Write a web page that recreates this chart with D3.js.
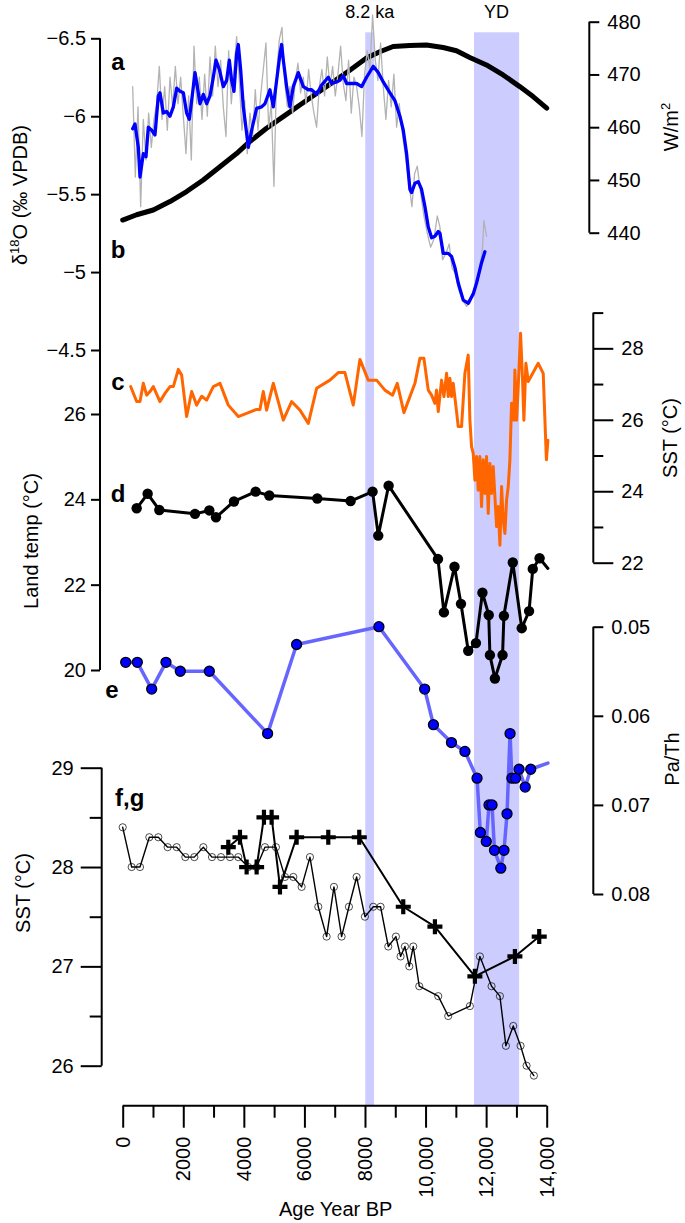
<!DOCTYPE html>
<html><head><meta charset="utf-8">
<script src="https://cdn.jsdelivr.net/npm/d3@7"></script>
<style>body{margin:0;background:#fff} svg{display:block} text{font-family:"Liberation Sans",Arial,Helvetica,sans-serif}</style>
</head><body>
<script>
// ---------- DATA ----------
const ageTicks = [0,2000,4000,6000,8000,10000,12000,14000];
const ageTickLabels = ["0","2000","4000","6000","8000","10,000","12,000","14,000"];
const ageMinorTicks = [1000,3000,5000,7000,9000,11000,13000];

const eventLabels = ["8.2 ka","YD"];
const eventStart = [8010, 11600];
const eventEnd = [8300, 13090];

// a: speleothem d18O raw (grey) and smoothed (blue)
const d18oRawAge = [329,417,505,593,681,769,857,945,1033,1121,1209,1298,1386,1474,1562,1650,1738,1826,1914,2002,2090,2178,2266,2354,2442,2530,2618,2706,2794,2882,2970,3058,3146,3234,3322,3410,3498,3586,3674,3762,3850,3938,4026,4114,4202,4290,4378,4466,4554,4642,4730,4818,4906,4994,5083,5171,5259,5347,5435,5523,5611,5699,5787,5875,5963,6051,6139,6227,6315,6403,6491,6579,6667,6755,6843,6931,7019,7107,7195,7283,7371,7459,7547,7635,7723,7811,7899,7987,8075,8163,8251,8339,8427,8515,8603,8691,8779,8867,8955,9044,9132,9220,9352,9462,9550,9638,9726,9836,9946,10056,10166,10276,10386,10474,10562,10672,10782,10870,10980,11090,11222,11354,11464,11574,11684,11794,11882,11926,12014];
const d18oRaw = [-6.19,-5.61,-6.06,-5.42,-5.98,-5.72,-6.02,-5.80,-5.98,-6.08,-6.32,-5.98,-6.19,-5.91,-6.25,-6.06,-6.32,-6.08,-6.25,-6.00,-5.76,-6.13,-5.72,-6.45,-6.08,-6.25,-5.98,-6.27,-6.00,-6.38,-6.13,-6.45,-6.19,-6.36,-6.06,-5.87,-6.42,-6.08,-6.30,-6.51,-6.23,-5.91,-6.10,-5.76,-6.02,-5.87,-6.17,-5.91,-6.13,-6.30,-6.47,-5.93,-6.08,-5.55,-6.27,-6.49,-6.57,-6.23,-6.06,-6.19,-6.02,-6.23,-6.34,-6.15,-6.25,-6.08,-6.30,-6.13,-6.02,-5.93,-6.19,-6.30,-6.13,-6.38,-6.19,-6.32,-6.13,-6.27,-6.45,-6.21,-6.10,-6.36,-6.02,-6.25,-6.19,-6.06,-5.87,-6.27,-6.42,-6.30,-6.65,-6.36,-6.23,-6.47,-6.19,-5.98,-6.23,-6.06,-6.27,-5.93,-6.08,-5.91,-5.72,-5.55,-5.42,-5.63,-5.68,-5.51,-5.36,-5.25,-5.16,-5.21,-5.36,-5.29,-5.08,-5.12,-5.18,-5.03,-4.99,-4.89,-4.82,-4.78,-4.80,-4.86,-4.93,-5.03,-5.16,-5.33,-5.23];
const d18oSmoothAge = [329,406,516,571,681,769,846,956,1066,1176,1231,1341,1451,1561,1672,1782,1892,2002,2112,2200,2277,2387,2464,2552,2662,2772,2882,2992,3080,3190,3322,3432,3520,3597,3674,3762,3817,3894,3982,4092,4147,4257,4422,4587,4697,4862,4973,5083,5193,5248,5303,5413,5523,5633,5798,5963,6128,6238,6403,6568,6788,6898,7063,7173,7283,7393,7558,7723,7888,8053,8273,8438,8603,8824,8989,9154,9264,9374,9484,9539,9649,9759,9869,9979,10089,10199,10309,10419,10474,10584,10749,10859,10969,11079,11244,11409,11574,11684,11849,11959];
const d18oSmooth = [-5.92,-5.95,-5.80,-5.61,-5.76,-5.74,-5.93,-5.91,-5.88,-6.13,-6.15,-6.02,-6.03,-6.00,-6.06,-6.18,-6.16,-6.15,-6.02,-5.98,-6.10,-6.28,-6.19,-6.08,-6.14,-6.08,-6.13,-6.25,-6.36,-6.30,-6.19,-6.23,-6.36,-6.23,-6.16,-6.40,-6.46,-6.30,-6.06,-5.89,-5.80,-5.91,-6.05,-6.06,-6.08,-6.17,-6.06,-6.23,-6.40,-6.46,-6.36,-6.19,-6.06,-6.19,-6.28,-6.19,-6.17,-6.17,-6.14,-6.20,-6.25,-6.21,-6.22,-6.23,-6.26,-6.21,-6.21,-6.21,-6.19,-6.25,-6.32,-6.28,-6.22,-6.15,-6.10,-6.00,-5.91,-5.76,-5.53,-5.51,-5.57,-5.58,-5.53,-5.42,-5.29,-5.22,-5.23,-5.26,-5.25,-5.12,-5.12,-5.10,-5.03,-4.93,-4.82,-4.80,-4.86,-4.93,-5.06,-5.13];

// b: insolation (W/m2)
const insolAge = [0,460,1010,1560,2110,2660,3210,3760,4200,4750,5300,5850,6400,6950,7500,8050,8490,8930,9480,10030,10580,11020,11460,12010,12560,13110,13550,14000];
const insol = [442.4,443.4,444.3,445.9,447.8,450.0,452.5,455.0,457.3,459.8,462.0,464.2,466.4,468.6,470.8,473.1,474.3,475.3,475.5,475.6,475.1,474.5,473.2,471.8,469.9,467.7,465.8,463.6];

// c: SST (orange)
const sstCAge = [263,461,571,681,791,901,1011,1231,1396,1562,1672,1837,1947,2112,2277,2442,2607,2772,2992,3212,3487,3817,4422,4532,4642,4752,4973,5303,5578,5853,6128,6403,6843,7118,7338,7613,7833,8108,8383,8658,8911,9066,9286,9649,9814,9946,10089,10199,10309,10364,10419,10529,10606,10694,10749,10804,10859,10914,11024,11079,11189,11299,11409,11464,11519,11574,11629,11684,11739,11794,11849,11904,11959,12014,12069,12125,12180,12235,12290,12345,12400,12455,12510,12565,12620,12675,12730,12785,12840,12917,12950,13005,13060,13137,13203,13247,13313,13390,13720,13885,13990,14040];
const sstC = [26.93,26.51,26.51,27.02,26.69,26.79,26.93,26.51,26.74,26.93,26.93,27.41,27.25,26.09,26.79,26.41,26.66,26.55,26.93,27.02,26.41,26.09,26.29,26.29,26.79,26.27,27.02,25.99,26.51,26.27,25.90,26.88,27.11,27.32,27.32,26.41,27.69,27.11,27.11,26.83,26.69,27.02,26.20,27.02,27.72,27.72,26.83,26.69,26.46,26.83,26.23,27.11,26.65,27.30,26.65,27.16,26.65,27.02,26.23,25.81,25.81,27.30,27.81,25.99,25.25,25.06,24.31,24.97,24.03,24.97,23.57,24.88,23.94,24.97,23.38,24.78,23.94,24.69,23.85,23.01,23.57,22.49,24.13,23.19,22.82,23.75,24.13,24.88,26.46,25.99,27.39,25.99,26.93,28.42,27.11,25.99,27.58,27.07,27.58,27.30,24.88,25.43];

// d: land temperature
const landAge = [461,824,1209,2387,2860,3080,3674,4389,4840,6425,7525,8251,8438,8780,10410,10606,10955,11170,11409,11664,11878,12086,12125,12290,12543,12587,12880,13176,13418,13540,13765,14040];
const landTemp = [23.79,24.13,23.75,23.66,23.74,23.58,23.95,24.18,24.09,24.02,23.96,24.18,23.15,24.32,22.60,21.35,22.42,21.55,20.45,20.63,21.81,21.29,20.35,19.80,20.35,21.27,22.52,20.98,21.38,22.37,22.62,22.38];

// e: Pa/Th
const paThAge = [99,483,957,1429,1902,2860,4785,5742,8460,9970,10260,10855,11300,11700,11810,12005,12095,12195,12275,12485,12590,12690,12790,12850,12972,13088,13290,13472,14040];
const paTh = [0.0540,0.0540,0.0570,0.0540,0.0550,0.0550,0.0620,0.0520,0.0500,0.0570,0.0610,0.0630,0.0640,0.0670,0.0731,0.0741,0.0700,0.0700,0.0751,0.0771,0.0751,0.0710,0.0620,0.0670,0.0670,0.0660,0.0680,0.0660,0.0653];

// f: SST (open circles)
const sstFAge = [0,296,571,879,1176,1484,1782,2068,2365,2662,2948,3245,3542,3817,4147,4422,4697,5060,5358,5633,5908,6183,6458,6733,6975,7228,7470,7723,7998,8273,8515,8769,9021,9175,9319,9462,9594,9792,10419,10749,11464,11794,12180,12455,12653,12895,13137,13335,13577];
const sstF = [28.4,28.0,28.0,28.3,28.3,28.2,28.2,28.1,28.1,28.2,28.1,28.1,28.1,28.1,28.0,28.0,28.2,28.2,27.9,27.9,27.8,28.1,27.6,27.3,27.8,27.3,27.6,27.9,27.5,27.6,27.6,27.2,27.3,27.1,27.2,27.0,27.2,26.8,26.7,26.5,26.6,27.1,26.8,26.7,26.2,26.4,26.2,26.0,25.9];

// g: SST (crosses)
const sstGAge = [3487,3872,4092,4422,4664,4917,5193,5743,6788,7811,9264,10309,11629,12950,13753];
const sstG = [28.2,28.3,28.0,28.0,28.5,28.5,27.8,28.3,28.3,28.3,27.6,27.4,26.9,27.1,27.3];

// ---------- DRAWING ----------
const W = 685, H = 1223;
const FONT = 20;
const svg = d3.select("body").append("svg").attr("width", W).attr("height", H);

const x = d3.scaleLinear().domain([0, 14000]).range([122.7, 546.7]);
const yO = d3.scaleLinear().domain([-6.5, -4.5]).range([38.3, 350]);
const yW = d3.scaleLinear().domain([440, 480]).range([232.7, 21.7]);
const ySC = d3.scaleLinear().domain([22, 29]).range([562.7, 312.6]);
const yL = d3.scaleLinear().domain([20, 26]).range([670, 414]);
const yP = d3.scaleLinear().domain([0.05, 0.08]).range([626.7, 894]);
const yF = d3.scaleLinear().domain([26, 29]).range([1065.7, 767.7]);

const xAxisY = 1105.7, bandTop = 32.3;

// bands
svg.selectAll("rect.band").data(eventLabels).join("rect")
  .attr("x", (d, i) => x(eventStart[i]))
  .attr("width", (d, i) => x(eventEnd[i]) - x(eventStart[i]))
  .attr("y", bandTop).attr("height", xAxisY - bandTop)
  .attr("fill", "#ccccff");
svg.selectAll("text.band").data(eventLabels).join("text")
  .attr("x", (d, i) => x((eventStart[i] + eventEnd[i]) / 2))
  .attr("y", 18).attr("text-anchor", "middle").attr("font-size", 18).text(d => d);

function pts(ages, vals, ys) { return ages.map((a, i) => [x(a), ys(vals[i])]); }
const line = d3.line();

function drawLine(ages, vals, ys, color, width) {
  svg.append("path").attr("d", line(pts(ages, vals, ys)))
    .attr("fill", "none").attr("stroke", color).attr("stroke-width", width)
    .attr("stroke-linejoin", "round").attr("stroke-linecap", "round");
}

// b insolation, a raw + smooth
drawLine(insolAge, insol, yW, "#000", 5);
drawLine(d18oRawAge, d18oRaw, yO, "#b3b3b3", 1.3);
drawLine(d18oSmoothAge, d18oSmooth, yO, "#0000ff", 3.3);

// c
drawLine(sstCAge, sstC, ySC, "#ff6600", 3);

// e line
drawLine(paThAge, paTh, yP, "#6666ff", 3.5);
// d line
drawLine(landAge, landTemp, yL, "#000", 3);
// d dots
svg.append("g").selectAll("circle").data(landAge.map((a, i) => i).filter(i => landAge[i] <= 14000)).join("circle")
  .attr("cx", i => x(landAge[i])).attr("cy", i => yL(landTemp[i])).attr("r", 5.2).attr("fill", "#000");
// e dots
svg.append("g").selectAll("circle").data(paThAge.map((a, i) => i).filter(i => paThAge[i] <= 14000)).join("circle")
  .attr("cx", i => x(paThAge[i])).attr("cy", i => yP(paTh[i])).attr("r", 5)
  .attr("fill", "#0000ff").attr("stroke", "#000").attr("stroke-width", 1.3);

// f
drawLine(sstFAge, sstF, yF, "#000", 1.4);
svg.append("g").selectAll("circle").data(sstFAge.map((a, i) => i)).join("circle")
  .attr("cx", i => x(sstFAge[i])).attr("cy", i => yF(sstF[i])).attr("r", 3.6)
  .attr("fill", "none").attr("stroke", "#000").attr("stroke-width", 0.7);
// g
drawLine(sstGAge, sstG, yF, "#000", 2);
svg.append("g").selectAll("path").data(sstGAge.map((a, i) => i)).join("path")
  .attr("transform", i => `translate(${x(sstGAge[i])},${yF(sstG[i])})`)
  .attr("d", "M-7.5,0H7.5M0,-7.5V7.5").attr("stroke", "#000").attr("stroke-width", 4.2).attr("fill", "none");

// ---------- AXES ----------
function styleAxis(g) {
  g.select(".domain").remove();
  g.selectAll(".tick line").attr("stroke", "#000").attr("stroke-width", 2);
  g.selectAll(".tick text").attr("font-size", FONT).attr("fill", "#000")
    .attr("font-family", "'Liberation Sans',Arial,Helvetica,sans-serif");
}
const fmt = d3.format("");

// upper left combined axis
const LX = 100;
svg.append("line").attr("x1", LX).attr("x2", LX).attr("y1", yO(-6.5)).attr("y2", yL(20)).attr("stroke", "#000").attr("stroke-width", 2);
svg.append("g").attr("transform", `translate(${LX},0)`)
  .call(d3.axisLeft(yO).tickValues([-6.5, -6, -5.5, -5, -4.5]).tickSize(9).tickPadding(5).tickFormat(fmt)).call(styleAxis);
svg.append("g").attr("transform", `translate(${LX},0)`)
  .call(d3.axisLeft(yL).tickValues([20, 22, 24, 26]).tickSize(9).tickPadding(5).tickFormat(fmt)).call(styleAxis);

// bottom-left SST axis
const BX = 101.7;
svg.append("line").attr("x1", BX).attr("x2", BX).attr("y1", yF(29)).attr("y2", yF(26)).attr("stroke", "#000").attr("stroke-width", 2);
svg.append("g").attr("transform", `translate(${BX},0)`)
  .call(d3.axisLeft(yF).tickValues([26, 27, 28, 29]).tickSize(21).tickPadding(7).tickFormat(fmt)).call(styleAxis);
svg.append("g").attr("transform", `translate(${BX},0)`)
  .call(d3.axisLeft(yF).tickValues([26.5, 27.5, 28.5]).tickSize(12).tickFormat("")).call(styleAxis);

// right: W/m2
const RX1 = 589.3, RX2 = 593.3;
svg.append("line").attr("x1", RX1).attr("x2", RX1).attr("y1", yW(480)).attr("y2", yW(440)).attr("stroke", "#000").attr("stroke-width", 2);
svg.append("g").attr("transform", `translate(${RX1},0)`)
  .call(d3.axisRight(yW).tickValues([440, 450, 460, 470, 480]).tickSize(10).tickPadding(8).tickFormat(fmt)).call(styleAxis);
// right: SST c
svg.append("line").attr("x1", RX2).attr("x2", RX2).attr("y1", ySC(29)).attr("y2", ySC(22)).attr("stroke", "#000").attr("stroke-width", 2);
svg.append("g").attr("transform", `translate(${RX2},0)`)
  .call(d3.axisRight(ySC).tickValues([22, 24, 26, 28]).tickSize(20).tickPadding(8).tickFormat(fmt)).call(styleAxis);
svg.append("g").attr("transform", `translate(${RX2},0)`)
  .call(d3.axisRight(ySC).tickValues([23, 25, 27, 29]).tickSize(10).tickFormat("")).call(styleAxis);
// right: Pa/Th
svg.append("line").attr("x1", RX2).attr("x2", RX2).attr("y1", yP(0.05)).attr("y2", yP(0.08)).attr("stroke", "#000").attr("stroke-width", 2);
svg.append("g").attr("transform", `translate(${RX2},0)`)
  .call(d3.axisRight(yP).tickValues([0.05, 0.06, 0.07, 0.08]).tickSize(10).tickPadding(8).tickFormat(d3.format(".2f"))).call(styleAxis);

// x axis
svg.append("line").attr("x1", x(0)).attr("x2", x(14000)).attr("y1", xAxisY).attr("y2", xAxisY).attr("stroke", "#000").attr("stroke-width", 2);
svg.append("g").attr("transform", `translate(0,${xAxisY})`)
  .call(d3.axisBottom(x).tickValues(ageTicks).tickSize(22).tickFormat("")).call(styleAxis);
svg.append("g").attr("transform", `translate(0,${xAxisY})`)
  .call(d3.axisBottom(x).tickValues(ageMinorTicks).tickSize(12).tickFormat("")).call(styleAxis);
svg.append("g").selectAll("text").data(ageTicks).join("text")
  .attr("transform", d => `translate(${x(d)},${xAxisY + 31}) rotate(-90)`)
  .attr("text-anchor", "end").attr("dy", "0.35em").attr("font-size", FONT).text((d, i) => ageTickLabels[i]);

// axis titles
svg.append("text").attr("transform", `translate(${x(7000) + 1},1216)`).attr("text-anchor", "middle").attr("font-size", FONT).text("Age Year BP");

const t1 = svg.append("text").attr("transform", "translate(27,195) rotate(-90)").attr("text-anchor", "middle").attr("font-size", FONT);
t1.append("tspan").text("δ");
t1.append("tspan").attr("font-size", 13).attr("dy", -8).text("18");
t1.append("tspan").attr("dy", 8).text("O (‰ VPDB)");

svg.append("text").attr("transform", "translate(38,541) rotate(-90)").attr("text-anchor", "middle").attr("font-size", FONT).text("Land temp (°C)");
svg.append("text").attr("transform", "translate(30,893) rotate(-90)").attr("text-anchor", "middle").attr("font-size", FONT).text("SST (°C)");

const t2 = svg.append("text").attr("transform", "translate(678,127) rotate(-90)").attr("text-anchor", "middle").attr("font-size", FONT);
t2.append("tspan").text("W/m");
t2.append("tspan").attr("font-size", 13).attr("dy", -8).text("2");
svg.append("text").attr("transform", "translate(677,438) rotate(-90)").attr("text-anchor", "middle").attr("font-size", FONT).text("SST (°C)");
svg.append("text").attr("transform", "translate(679,759) rotate(-90)").attr("text-anchor", "middle").attr("font-size", FONT).text("Pa/Th");

// panel letters
const panelLetters = ["a", "b", "c", "d", "e", "f,g"];
const letterPos = [[118, 70], [118, 258], [118, 390], [118, 502], [112, 698], [115, 806]];
svg.selectAll("text.panel").data(panelLetters).join("text")
  .attr("x", (d, i) => letterPos[i][0]).attr("y", (d, i) => letterPos[i][1])
  .attr("text-anchor", (d, i) => i === 5 ? "start" : "middle")
  .attr("font-size", 24).attr("font-weight", "bold").text(d => d);
</script>
</body></html>
